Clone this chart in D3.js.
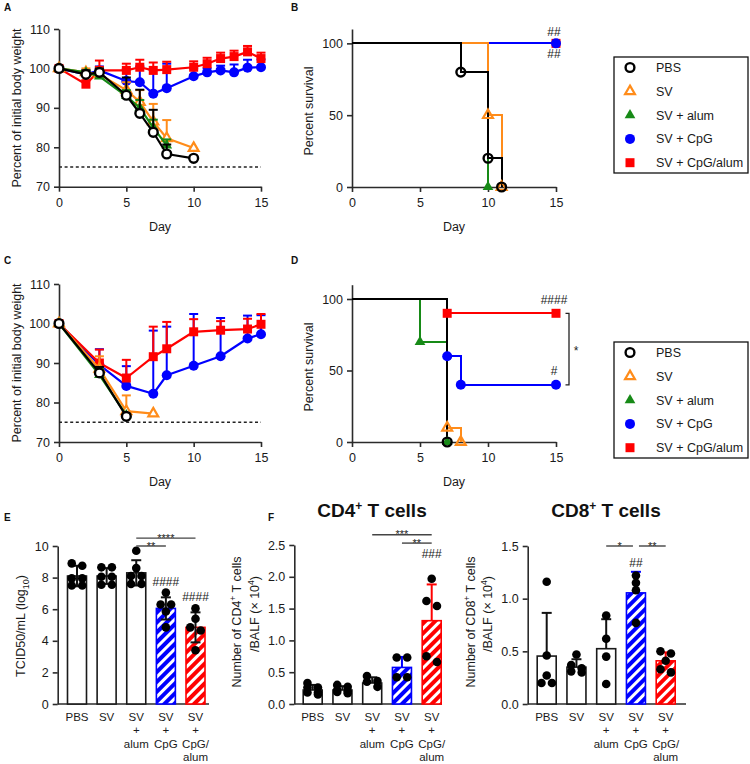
<!DOCTYPE html>
<html><head><meta charset="utf-8">
<script src="https://cdn.jsdelivr.net/npm/d3@7"></script>
<style>body{margin:0;background:#fff}</style>
</head><body>
<script>
// ---------------- DATA ----------------
const seriesNames = ["PBS","SV","SV + alum","SV + CpG","SV + CpG/alum"];
const seriesColors = ["#000000","#FF8C1A","#178A17","#0000FF","#FF0000"];
const seriesShapes = ["circleOpen","triangleOpen","triangle","circle","square"];

// Panel A: body weight (%), challenge 1
const daysA_PBS=[0,2,3,5,6,7,8,10];
const wA_PBS=[100,98.5,99,93.2,88.6,83.8,78.3,77.2];
const sdA_PBS=[0,1,1,4.5,6,5.7,2.4,0];
const daysA_SV=[0,2,3,5,6,7,8,10];
const wA_SV=[100,99,98.5,94.5,91.5,86.5,82.3,79.8];
const sdA_SV=[0,1,1.5,2,3,4.5,4.6,0];
const daysA_alum=[0,2,3,5,6,7,8];
const wA_alum=[100,99,98,93,90,85,80.5];
const sdA_alum=[0,0.5,1,1.5,2,2,1.5];
const daysA_CpG=[0,2,3,5,6,7,8,10,11,12,13,14,15];
const wA_CpG=[100,98.5,99.5,96.8,96.5,93.6,95,98,99,99.5,99,100.2,100.3];
const sdA_CpG=[0,1,1,3,4,6,6.2,2,1,1.2,2,2,2];
const daysA_CpGalum=[0,2,3,5,6,7,8,10,11,12,13,14,15];
const wA_CpGalum=[100,96,99.5,99.5,100.3,99.5,99.7,100.3,101.2,102.5,103,104.2,102.5];
const sdA_CpGalum=[0,1,2.5,1.7,1.9,2,2,1.5,1.5,1.5,1.5,1.5,1.5];

// Panel C: body weight (%), challenge 2
const daysC_PBS=[0,3,5];
const wC_PBS=[100,87.5,76.5];
const sdC_PBS=[0,1.5,0];
const daysC_SV=[0,3,5,7];
const wC_SV=[100,88.5,77.8,77.2];
const sdC_SV=[0,3.2,4,0];
const daysC_alum=[0,3,5];
const wC_alum=[100,87,76.8];
const sdC_alum=[0,1.5,0];
const daysC_CpG=[0,3,5,7,8,10,12,14,15];
const wC_CpG=[100,89.5,84.2,82.2,86.9,89.3,91.7,96.2,97.3];
const sdC_CpG=[0,4,5,16,12.3,13.1,9.7,5.8,4.8];
const daysC_CpGalum=[0,3,5,7,8,10,12,14,15];
const wC_CpGalum=[100,90,86.2,91.6,93.6,97.9,98.3,98.6,99.8];
const sdC_CpGalum=[0,3.4,4.6,7.6,6.8,3.2,2.3,2.6,2.6];

// Panel B: survival (%)
const tB_PBS=[0,8,10,11],   sB_PBS=[100,80,20,0];
const tB_SV=[0,10,11],      sB_SV=[100,50,0];
const tB_alum=[0,10],       sB_alum=[100,0];
const tB_CpG=[0,15],        sB_CpG=[100,100];
const tB_CpGalum=[0,15],    sB_CpGalum=[100,100];
const hashB=["","","","##","##"];

// Panel D: survival (%)
const tD_PBS=[0,7],         sD_PBS=[100,0];
const tD_SV=[0,7,8],        sD_SV=[100,10,0];
const tD_alum=[0,5,7],      sD_alum=[100,70,0];
const tD_CpG=[0,7,8,15],    sD_CpG=[100,60,40,40];
const tD_CpGalum=[0,7,15],  sD_CpGalum=[100,90,90];
const hashD=["","","","#","####"];

// Bar charts
const barLabels=[["PBS"],["SV"],["SV","+","alum"],["SV","+","CpG"],["SV","+","CpG/","alum"]];
const tcidMean=[8.1,8.1,8.3,6.05,4.85];
const tcidSD=[0.65,0.5,0.8,0.7,0.95];
const tcidDots=[[8.9,8.75,7.95,7.95,7.5,7.5],[8.65,8.65,8.05,8.05,7.55,7.55],[9.7,8.6,8.1,8.1,7.6,7.6],[7.05,6.3,6.3,5.85,4.85],[6.05,5.4,4.85,4.65,3.4]];
const tcidHash=["","","","####","####"];
const tcidHashAt=[0,0,0,7.47,6.5];
const tcidSig=[[2,4,10.5,"****"],[2,3,10.0,"**"]];
const tcidTicks=[0,2,4,6,8,10];

const cd4Mean=[0.22,0.22,0.33,0.575,1.31];
const cd4SD=[0.08,0.06,0.09,0.165,0.57];
const cd4Dots=[[0.33,0.26,0.26,0.18,0.18,0.15],[0.3,0.27,0.22,0.2,0.19,0.17],[0.44,0.36,0.35,0.27],[0.73,0.73,0.42,0.42],[1.97,1.62,1.54,0.75,0.66]];
const cd4Hash=["","","","","###"];
const cd4HashAt=[0,0,0,0,2.3];
const cd4Sig=[[2,4,2.66,"***"],[3,4,2.53,"**"]];
const cd4Ticks=[0,0.5,1,1.5,2,2.5];

const cd8Mean=[0.455,0.35,0.525,1.055,0.41];
const cd8SD=[0.41,0.075,0.28,0.2,0.08];
const cd8Dots=[[1.16,0.46,0.27,0.2,0.2],[0.47,0.37,0.34,0.31,0.3],[0.84,0.62,0.45,0.19],[1.22,1.15,1.08,0.77],[0.5,0.48,0.41,0.33,0.3]];
const cd8Hash=["","","","##",""];
const cd8HashAt=[0,0,0,1.3,0];
const cd8Sig=[[2,3,1.5,"*"],[3,4,1.5,"**"]];
const cd8Ticks=[0,0.5,1,1.5];

// ---------------- DRAWING ----------------
const FONT='Arial, "Liberation Sans", Helvetica, sans-serif';
const AXC="#2b2b2b";
const svg=d3.select("body").append("svg").attr("width",750).attr("height",764)
  .style("font-family",FONT).style("display","block");
svg.append("rect").attr("width",750).attr("height",764).attr("fill","#fff");

const defs=svg.append("defs");
[["hatchBlue","#0000FF"],["hatchRed","#FF0000"]].forEach(([id,c])=>{
  const p=defs.append("pattern").attr("id",id).attr("patternUnits","userSpaceOnUse")
    .attr("width",7).attr("height",7).attr("patternTransform","rotate(45)");
  p.append("rect").attr("width",7).attr("height",7).attr("fill",c);
  p.append("rect").attr("width",3).attr("height",7).attr("fill","#fff");
});

function styleAxis(g){
  g.select(".domain").attr("stroke",AXC).attr("stroke-width",1.6);
  g.selectAll(".tick line").attr("stroke",AXC).attr("stroke-width",1.6);
  g.selectAll(".tick text").attr("fill","#1a1a1a").attr("font-size",12.5).attr("font-family",FONT);
}

function marker(g,shape,col,cx,cy,openFill){
  if(shape==="circleOpen"){
    g.append("circle").attr("cx",cx).attr("cy",cy).attr("r",4.4).attr("fill",openFill).attr("stroke",col).attr("stroke-width",2.4);
  } else if(shape==="circle"){
    g.append("circle").attr("cx",cx).attr("cy",cy).attr("r",5).attr("fill",col);
  } else if(shape==="square"){
    g.append("path").attr("transform",`translate(${cx},${cy})`).attr("d",d3.symbol().type(d3.symbolSquare).size(81)()).attr("fill",col);
  } else if(shape==="triangle"){
    g.append("path").attr("transform",`translate(${cx},${cy})`).attr("d",d3.symbol().type(d3.symbolTriangle).size(50)()).attr("fill",col);
  } else if(shape==="triangleOpen"){
    g.append("path").attr("transform",`translate(${cx},${cy})`).attr("d",d3.symbol().type(d3.symbolTriangle).size(42)()).attr("fill",openFill).attr("stroke",col).attr("stroke-width",2.2).attr("stroke-linejoin","miter");
  }
}

function panelLetter(t,x,y){
  svg.append("text").attr("x",x).attr("y",y).attr("font-size",10).attr("font-weight","bold").attr("fill","#111").text(t);
}
function rotLabel(t,x,y,size){
  return svg.append("text").attr("transform",`translate(${x},${y}) rotate(-90)`).attr("text-anchor","middle")
    .attr("font-size",size||12.5).attr("fill","#1a1a1a").text(t);
}

function weightPanel(xr,yr,sers){
  const x=d3.scaleLinear().domain([0,15]).range(xr);
  const y=d3.scaleLinear().domain([70,110]).range(yr);
  const gx=svg.append("g").attr("transform",`translate(0,${yr[0]})`)
    .call(d3.axisBottom(x).tickValues([0,5,10,15]).tickSize(5).tickPadding(6).tickSizeOuter(0));
  styleAxis(gx);
  const gy=svg.append("g").attr("transform",`translate(${xr[0]},0)`)
    .call(d3.axisLeft(y).tickValues([70,80,90,100,110]).tickSize(5).tickPadding(4).tickSizeOuter(0));
  styleAxis(gy);
  svg.append("line").attr("x1",x(0)).attr("x2",x(15)).attr("y1",y(75)).attr("y2",y(75))
    .attr("stroke","#222").attr("stroke-width",1.3).attr("stroke-dasharray","3,2.6");
  const g=svg.append("g");
  [3,4,1,2,0].forEach(i=>{
    const s=sers[i], col=seriesColors[i];
    const pts=s.days.map((d,k)=>({d:d,w:s.w[k],sd:s.sd[k]}));
    g.append("path").datum(pts).attr("d",d3.line().x(p=>x(p.d)).y(p=>y(p.w)))
      .attr("fill","none").attr("stroke",col).attr("stroke-width",2.2).attr("stroke-linejoin","round");
    pts.filter(p=>p.sd>0).forEach(p=>{
      g.append("line").attr("x1",x(p.d)).attr("x2",x(p.d)).attr("y1",y(p.w)).attr("y2",y(p.w+p.sd)).attr("stroke",col).attr("stroke-width",2);
      g.append("line").attr("x1",x(p.d)-4.5).attr("x2",x(p.d)+4.5).attr("y1",y(p.w+p.sd)).attr("y2",y(p.w+p.sd)).attr("stroke",col).attr("stroke-width",2);
    });
    pts.forEach(p=>marker(g,seriesShapes[i],col,x(p.d),y(p.w),"#fff"));
  });
  svg.append("text").attr("x",(xr[0]+xr[1])/2).attr("y",yr[0]+44).attr("text-anchor","middle").attr("font-size",12.5).attr("fill","#1a1a1a").text("Day");
}

function survPanel(xr,yBot,yTop,sers,hashes,hashOff){
  const x=d3.scaleLinear().domain([0,15]).range(xr);
  const y=d3.scaleLinear().domain([0,110]).range([yBot,yTop]);
  const gx=svg.append("g").attr("transform",`translate(0,${yBot})`)
    .call(d3.axisBottom(x).tickValues([0,5,10,15]).tickSize(5).tickPadding(6).tickSizeOuter(0));
  styleAxis(gx);
  const gy=svg.append("g").attr("transform",`translate(${xr[0]},0)`)
    .call(d3.axisLeft(y).tickValues([0,50,100]).tickSize(5).tickPadding(4).tickSizeOuter(0));
  styleAxis(gy);
  const g=svg.append("g");
  const line=d3.line().x(p=>Math.round(x(p[0]))).y(p=>Math.round(y(p[1]))).curve(d3.curveStepAfter);
  [4,3,2,1,0].forEach(i=>{
    const s=sers[i], col=seriesColors[i];
    const pts=s.t.map((t,k)=>[t,s.s[k]]);
    g.append("path").datum(pts).attr("d",line).attr("fill","none").attr("stroke",col).attr("stroke-width",2);
  });
  [4,3,2,1,0].forEach(i=>{
    const s=sers[i], col=seriesColors[i];
    s.t.forEach((t,k)=>{ if(k>0) marker(g,seriesShapes[i],col,x(t),y(s.s[k]),"none"); });
  });
  sers.forEach((s,i)=>{
    if(!hashes[i]) return;
    const n=s.t.length-1;
    hashOff[i].forEach(off=>{
      svg.append("text").attr("x",x(s.t[n])-2).attr("y",y(s.s[n])+off).attr("text-anchor","middle")
        .attr("font-size",12).attr("fill","#222").text(hashes[i]);
    });
  });
  svg.append("text").attr("x",(xr[0]+xr[1])/2).attr("y",yBot+44).attr("text-anchor","middle").attr("font-size",12.5).attr("fill","#1a1a1a").text("Day");
  return {x,y};
}

function legend(y0){
  svg.append("rect").attr("x",614).attr("y",y0).attr("width",134).attr("height",116)
    .attr("fill","none").attr("stroke","#111").attr("stroke-width",1.3);
  const g=svg.append("g");
  seriesNames.forEach((n,i)=>{
    const cy=y0+10.5+i*23.8;
    marker(g,seriesShapes[i],seriesColors[i],630,cy,"#fff");
    g.append("text").attr("x",656).attr("y",cy+4.5).attr("font-size",12.5).attr("fill","#1a1a1a").text(n);
  });
}

function swarm(vals,y,cx){
  const sorted=vals.slice().sort((a,b)=>b-a);
  const rows=[];
  sorted.forEach(v=>{
    const last=rows[rows.length-1];
    if(last && last.length<2 && Math.abs(y(last[0])-y(v))<6) last.push(v); else rows.push([v]);
  });
  const out=[];
  rows.forEach(r=>r.forEach((v,k)=>out.push([cx+(k-(r.length-1)/2)*10.5,y(v)])));
  return out;
}

function barPanel(o){
  const y=d3.scaleLinear().domain(o.yDomain).range([704,o.yTop]);
  const xc=d3.scalePoint().domain(d3.range(5)).range(o.centers);
  const gy=svg.append("g").attr("transform",`translate(${o.axisX},0)`)
    .call(d3.axisLeft(y).tickValues(o.ticks).tickFormat(o.fmt).tickSize(5).tickPadding(4).tickSizeOuter(0));
  styleAxis(gy);
  svg.append("line").attr("x1",o.axisX).attr("x2",o.axisEnd).attr("y1",704).attr("y2",704).attr("stroke",AXC).attr("stroke-width",1.6);
  const fills=["#fff","#fff","#fff","url(#hatchBlue)","url(#hatchRed)"];
  const strokes=["#1a1a1a","#1a1a1a","#1a1a1a","#0000FF","#FF0000"];
  const g=svg.append("g");
  o.mean.forEach((m,i)=>{
    g.append("rect").attr("x",xc(i)-9.5).attr("y",y(m)).attr("width",19).attr("height",y(0)-y(m))
      .attr("fill",fills[i]).attr("stroke",strokes[i]).attr("stroke-width",1.6);
  });
  o.mean.forEach((m,i)=>{
    const col=o.errColors[i];
    const lo=o.both? m-o.sd[i] : m, hi=m+o.sd[i];
    g.append("line").attr("x1",xc(i)).attr("x2",xc(i)).attr("y1",y(lo)).attr("y2",y(hi)).attr("stroke",col).attr("stroke-width",2);
    g.append("line").attr("x1",xc(i)-5).attr("x2",xc(i)+5).attr("y1",y(hi)).attr("y2",y(hi)).attr("stroke",col).attr("stroke-width",2);
    if(o.both) g.append("line").attr("x1",xc(i)-5).attr("x2",xc(i)+5).attr("y1",y(lo)).attr("y2",y(lo)).attr("stroke",col).attr("stroke-width",2);
  });
  o.dots.forEach((vals,i)=>{
    swarm(vals,y,xc(i)).forEach(p=>g.append("circle").attr("cx",p[0]).attr("cy",p[1]).attr("r",4.3).attr("fill","#000"));
  });
  // x labels (one text element per category, lines as tspans)
  barLabels.forEach((lines,i)=>{
    const t=svg.append("text").attr("x",xc(i)).attr("y",721).attr("text-anchor","middle")
      .attr("font-size",11.5).attr("fill","#1a1a1a");
    lines.forEach((s,k)=>t.append("tspan").attr("x",xc(i)).attr("dy",k===0?0:13.3).text(s));
  });
  o.hash.forEach((h,i)=>{ if(h) svg.append("text").attr("x",xc(i)).attr("y",y(o.hashAt[i])).attr("text-anchor","middle").attr("font-size",12).attr("fill","#222").text(h); });
  o.sig.forEach(s=>{
    const gapL=o.sig.some(t=>t!==s && t[2]===s[2] && t[1]===s[0])?3:0;
    const gapR=o.sig.some(t=>t!==s && t[2]===s[2] && t[0]===s[1])?3:0;
    const x1=xc(s[0])+gapL, x2=xc(s[1])-gapR, yy=y(s[2]);
    svg.append("line").attr("x1",x1).attr("x2",x2).attr("y1",yy).attr("y2",yy).attr("stroke","#444").attr("stroke-width",1.4);
    svg.append("text").attr("x",(x1+x2)/2).attr("y",yy+3.5).attr("text-anchor","middle").attr("font-size",11).attr("fill","#222").text(s[3]);
  });
  return {x:xc,y};
}

// ---- Panel A ----
panelLetter("A",4,11);
weightPanel([59,261],[186.7,29],[
  {days:daysA_PBS,w:wA_PBS,sd:sdA_PBS},
  {days:daysA_SV,w:wA_SV,sd:sdA_SV},
  {days:daysA_alum,w:wA_alum,sd:sdA_alum},
  {days:daysA_CpG,w:wA_CpG,sd:sdA_CpG},
  {days:daysA_CpGalum,w:wA_CpGalum,sd:sdA_CpGalum}]);
rotLabel("Percent of initial body weight",21,108);

// ---- Panel B ----
panelLetter("B",291,11);
survPanel([352,556],187,29,[
  {t:tB_PBS,s:sB_PBS},{t:tB_SV,s:sB_SV},{t:tB_alum,s:sB_alum},{t:tB_CpG,s:sB_CpG},{t:tB_CpGalum,s:sB_CpGalum}],
  hashB,[[],[],[],[-7.5],[14.2]]);
rotLabel("Percent survival",313,111);
legend(57);

// ---- Panel C ----
panelLetter("C",4,264);
weightPanel([59,261],[442,284],[
  {days:daysC_PBS,w:wC_PBS,sd:sdC_PBS},
  {days:daysC_SV,w:wC_SV,sd:sdC_SV},
  {days:daysC_alum,w:wC_alum,sd:sdC_alum},
  {days:daysC_CpG,w:wC_CpG,sd:sdC_CpG},
  {days:daysC_CpGalum,w:wC_CpGalum,sd:sdC_CpGalum}]);
rotLabel("Percent of initial body weight",21,363);

// ---- Panel D ----
panelLetter("D",291,264);
const dS=survPanel([352,556],442,284.7,[
  {t:tD_PBS,s:sD_PBS},{t:tD_SV,s:sD_SV},{t:tD_alum,s:sD_alum},{t:tD_CpG,s:sD_CpG},{t:tD_CpGalum,s:sD_CpGalum}],
  hashD,[[],[],[],[-9.8],[-9.8]]);
rotLabel("Percent survival",313,367);
{
  const yTop=dS.y(sD_CpGalum[sD_CpGalum.length-1]), yBot=dS.y(sD_CpG[sD_CpG.length-1]);
  const bx=dS.x(15)+13;
  svg.append("path").attr("d",`M${bx-3.5},${yTop}H${bx}V${yBot}H${bx-3.5}`).attr("fill","none").attr("stroke","#222").attr("stroke-width",1.3);
  svg.append("text").attr("x",bx+7).attr("y",(yTop+yBot)/2+6).attr("text-anchor","middle").attr("font-size",12).attr("fill","#222").text("*");
}
legend(342);

// ---- Panel E ----
panelLetter("E",4,520.5);
barPanel({yDomain:[0,10],yTop:546,axisX:57.7,axisEnd:209,centers:[77,195.5],ticks:tcidTicks,fmt:d3.format("d"),
  mean:tcidMean,sd:tcidSD,dots:tcidDots,both:true,errColors:["#111","#111","#111","#111","#111"],
  hash:tcidHash,hashAt:tcidHashAt,sig:tcidSig});
{
  const t=svg.append("text").attr("transform","translate(25,626) rotate(-90)").attr("text-anchor","middle").attr("font-size",12.5).attr("fill","#1a1a1a");
  t.append("tspan").text("TCID50/mL (log");
  t.append("tspan").attr("dy",3.5).attr("font-size",9).text("10");
  t.append("tspan").attr("dy",-3.5).text(")");
}

// ---- Panel F: CD4 ----
panelLetter("F",268,520.5);
barPanel({yDomain:[0,2.5],yTop:545,axisX:294.3,axisEnd:442,centers:[312.7,431.7],ticks:cd4Ticks,fmt:d3.format(".1f"),
  mean:cd4Mean,sd:cd4SD,dots:cd4Dots,both:false,errColors:["#111","#111","#111","#0000FF","#FF0000"],
  hash:cd4Hash,hashAt:cd4HashAt,sig:cd4Sig});
function cellTitle(txt,x){
  const t=svg.append("text").attr("x",x).attr("y",517).attr("text-anchor","middle").attr("font-size",19).attr("font-weight","bold").attr("fill","#111");
  t.append("tspan").text(txt);
  t.append("tspan").attr("dy",-7).attr("font-size",12).text("+");
  t.append("tspan").attr("dy",7).text(" T cells");
}
function cellYLabel(num,x1,x2){
  const a=svg.append("text").attr("transform",`translate(${x1},622) rotate(-90)`).attr("text-anchor","middle").attr("font-size",12.5).attr("fill","#1a1a1a");
  a.append("tspan").text("Number of "+num);
  a.append("tspan").attr("dy",-5).attr("font-size",8.5).text("+");
  a.append("tspan").attr("dy",5).text(" T cells");
  const b=svg.append("text").attr("transform",`translate(${x2},614) rotate(-90)`).attr("text-anchor","middle").attr("font-size",12.5).attr("fill","#1a1a1a");
  b.append("tspan").text("/BALF (\u00d7 10");
  b.append("tspan").attr("dy",-5).attr("font-size",8.5).text("4");
  b.append("tspan").attr("dy",5).text(")");
}
cellTitle("CD4",372);
cellYLabel("CD4",241,259);

// ---- CD8 ----
barPanel({yDomain:[0,1.5],yTop:546,axisX:527.7,axisEnd:686,centers:[546.7,665.7],ticks:cd8Ticks,fmt:d3.format(".1f"),
  mean:cd8Mean,sd:cd8SD,dots:cd8Dots,both:false,errColors:["#111","#111","#111","#0000FF","#FF0000"],
  hash:cd8Hash,hashAt:cd8HashAt,sig:cd8Sig});
cellTitle("CD8",606);
cellYLabel("CD8",474.5,492);
</script>
</body></html>
